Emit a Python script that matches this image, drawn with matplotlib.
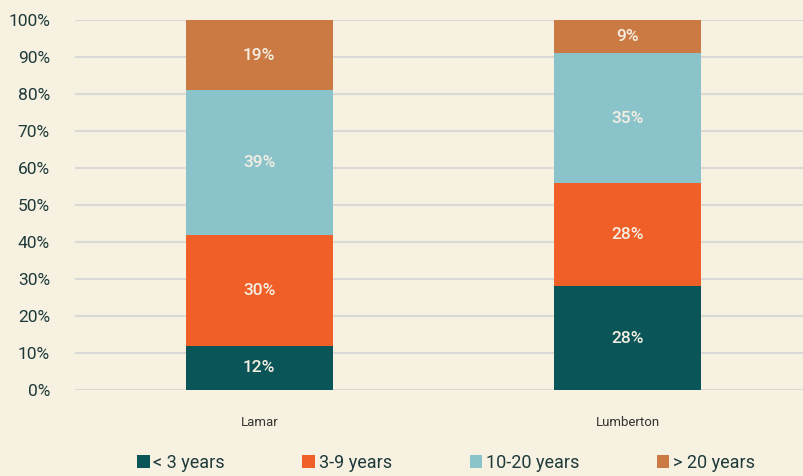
import matplotlib
matplotlib.use("Agg")
import matplotlib.pyplot as plt
from matplotlib.patches import Patch

categories = ["Lamar", "Lumberton"]
series_names = ["< 3 years", "3-9 years", "10-20 years", "> 20 years"]
values = [
    [12, 28],
    [30, 28],
    [39, 35],
    [19, 9],
]
colors = ["#0A5557", "#F05F28", "#8AC3CA", "#CC7A44"]
tick_labels = [f"{v}%" for v in range(0, 101, 10)]

bg = "#F7F1E1"
txt = "#1E3A3A"
plt.rcParams['font.family'] = ['Roboto', 'DejaVu Sans']

fig = plt.figure(figsize=(8.04, 4.76), dpi=100, facecolor=bg)
ax = fig.add_axes([75/804, (476-390)/476, (812-75)/804, 370/476])
ax.set_facecolor(bg)

x = list(range(len(categories)))
bottom = [0]*len(categories)
for name, vals, c in zip(series_names, values, colors):
    ax.bar(x, vals, bottom=bottom, width=0.40, color=c, zorder=3, label=name)
    for xi, v, b in zip(x, vals, bottom):
        ax.text(xi, b + v/2, f"{v}%", ha="center", va="center",
                color="#F4EFE2", fontsize=12.5, fontweight="medium", zorder=4)
    bottom = [b + v for b, v in zip(bottom, vals)]

ax.set_xlim(-0.5, 1.5)
ax.set_ylim(0, 100)
ax.set_yticks(range(0, 101, 10))
ax.set_yticklabels(tick_labels, fontsize=12.5, color=txt)
ax.set_xticks(x)
ax.set_xticklabels(categories, fontsize=9.5, color="#333333")
ax.tick_params(axis="both", length=0)
ax.tick_params(axis="y", pad=18)
ax.tick_params(axis="x", pad=19)
ax.grid(axis="y", color="#D9D9D6", linewidth=1.5, zorder=0)
for s in ax.spines.values():
    s.set_visible(False)

handles = [Patch(facecolor=c, edgecolor="none") for c in colors]
fig.legend(handles, series_names, loc="center", bbox_to_anchor=(446/804, 1-463/476),
           ncol=4, frameon=False, fontsize=13, labelcolor=txt,
           handlelength=0.7, handleheight=0.7, handletextpad=0.2, columnspacing=4.3)

fig.savefig("out.png", dpi=100, facecolor=bg)
